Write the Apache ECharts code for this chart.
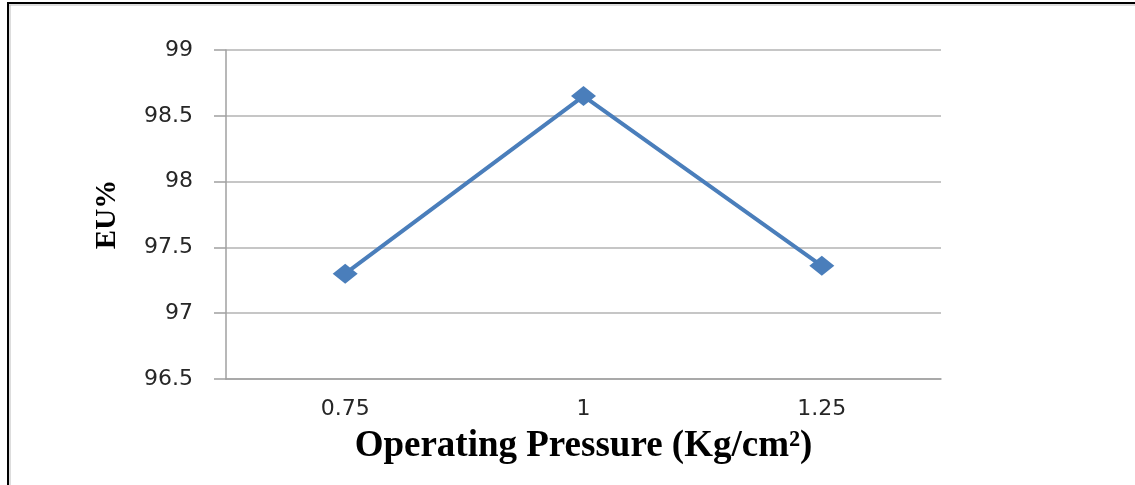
<!DOCTYPE html>
<html>
<head>
<meta charset="utf-8">
<script src="https://cdn.jsdelivr.net/npm/echarts@6/dist/echarts.min.js"></script>
<style>
html,body{margin:0;padding:0;background:#fff;}
#c{width:1135px;height:485px;}
</style>
</head>
<body>
<div id="c"></div>
<script>
const categories = ['0.75', '1', '1.25'];
const euValues = [97.30, 98.65, 97.36];
const yTicks = { min: 96.5, max: 99, step: 0.5 };
const xTitle = 'Operating Pressure (Kg/cm²)';
const yTitle = 'EU%';

const chart = echarts.init(document.getElementById('c'), null, { renderer: 'canvas' });
chart.setOption({
  backgroundColor: '#ffffff',
  animation: false,
  graphic: [
    { type: 'line', shape: { x1: 7, y1: 3, x2: 1135, y2: 3 }, style: { stroke: '#000', lineWidth: 2 } },
    { type: 'line', shape: { x1: 7, y1: 5, x2: 1135, y2: 5 }, style: { stroke: '#bbbbbb', lineWidth: 1 } },
    { type: 'line', shape: { x1: 8, y1: 3, x2: 8, y2: 485 }, style: { stroke: '#000', lineWidth: 2 } },
    { type: 'line', shape: { x1: 10, y1: 5, x2: 10, y2: 485 }, style: { stroke: '#bbbbbb', lineWidth: 1 } }
  ],
  grid: { left: 226, right: 194, top: 50, bottom: 106, containLabel: false },
  xAxis: {
    type: 'category',
    data: categories,
    boundaryGap: true,
    name: xTitle,
    nameLocation: 'middle',
    nameGap: 49,
    nameTextStyle: { fontFamily: 'Liberation Serif', fontWeight: 'bold', fontSize: 37, color: '#000' },
    axisLine: { show: true, lineStyle: { color: '#a0a0a0', width: 1.5 } },
    axisTick: { show: false },
    axisLabel: { margin: 19, fontFamily: 'DejaVu Sans', fontSize: 22, color: '#262626' },
    splitLine: { show: false }
  },
  yAxis: {
    type: 'value',
    min: yTicks.min,
    max: yTicks.max,
    interval: yTicks.step,
    name: yTitle,
    nameLocation: 'middle',
    nameGap: 104,
    nameRotate: 90,
    nameTextStyle: { fontFamily: 'Liberation Serif', fontWeight: 'bold', fontSize: 29, color: '#000' },
    axisLine: { show: true, lineStyle: { color: '#a0a0a0', width: 1.5 } },
    axisTick: { show: true, inside: false, length: 12, lineStyle: { color: '#a0a0a0', width: 1.5 } },
    axisLabel: { margin: 33, fontFamily: 'DejaVu Sans', fontSize: 22, color: '#262626' },
    splitLine: { show: true, lineStyle: { color: '#b3b3b3', width: 1.5 } }
  },
  series: [{
    type: 'line',
    data: euValues,
    symbol: 'diamond',
    symbolSize: [25, 20],
    itemStyle: { color: '#4a7ebb' },
    lineStyle: { color: '#4a7ebb', width: 4 },
    showAllSymbol: true
  }]
});
</script>
</body>
</html>
